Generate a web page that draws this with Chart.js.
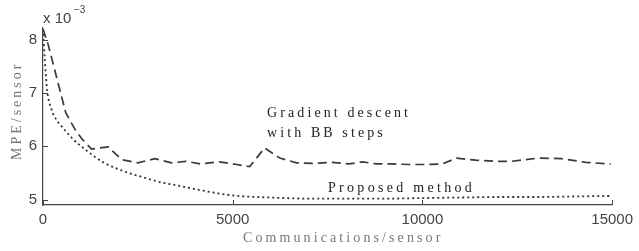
<!DOCTYPE html>
<html>
<head>
<meta charset="utf-8">
<script src="https://cdn.jsdelivr.net/npm/chart.js@4/dist/chart.umd.min.js"></script>
<style>
  body { margin: 0; background: #fff; }
  #wrap { position: relative; width: 639px; height: 251px; }
</style>
</head>
<body>
<div id="wrap"><canvas id="mpechart"></canvas></div>
<script>
// values in units of 1e-3
var bbX = [0, 140, 360, 600, 850, 1050, 1280, 1720, 2075, 2500, 2950, 3390, 3760, 4150, 4650, 5100, 5450, 5840, 6240, 6680, 7100, 7620, 8070, 8420, 8780, 9200, 9650, 10100, 10520, 10900, 11410, 11940, 12350, 13050, 13670, 14300, 14960];
var bbY = [8.2, 7.9, 7.29, 6.63, 6.31, 6.12, 5.95, 5.99, 5.75, 5.69, 5.77, 5.69, 5.72, 5.67, 5.71, 5.66, 5.62, 5.97, 5.78, 5.69, 5.68, 5.70, 5.67, 5.71, 5.67, 5.67, 5.66, 5.66, 5.67, 5.78, 5.74, 5.72, 5.72, 5.78, 5.77, 5.70, 5.67];

var propX = [0, 50, 110, 225, 350, 460, 800, 1150, 1590, 2100, 2640, 3080, 3520, 4130, 5000, 6000, 7000, 8000, 9000, 10000, 11000, 12000, 13000, 14000, 15000];
var propY = [8.2, 7.6, 7.05, 6.69, 6.5, 6.4, 6.13, 5.92, 5.70, 5.54, 5.42, 5.33, 5.27, 5.18, 5.08, 5.04, 5.02, 5.02, 5.02, 5.03, 5.04, 5.05, 5.05, 5.06, 5.07];

var xTicks = [0, 5000, 10000, 15000];
var yTicks = [5, 6, 7, 8];

function pts(xs, ys) {
  return xs.map(function (x, i) { return { x: x, y: ys[i] }; });
}

var axisColor = '#444';

var extras = {
  id: 'extras',
  afterDraw: function (chart) {
    var ctx = chart.ctx;
    var xs = chart.scales.x, ys = chart.scales.y;
    var area = chart.chartArea;
    ctx.save();
    ctx.strokeStyle = axisColor;
    ctx.lineWidth = 1;
    // inward tick marks
    xTicks.forEach(function (v) {
      var px = Math.round(xs.getPixelForValue(v)) + 0.5;
      ctx.beginPath();
      ctx.moveTo(px, area.bottom);
      ctx.lineTo(px, area.bottom - 5);
      ctx.stroke();
    });
    yTicks.forEach(function (v) {
      var py = Math.round(ys.getPixelForValue(v)) + 0.5;
      ctx.beginPath();
      ctx.moveTo(area.left, py);
      ctx.lineTo(area.left + 5, py);
      ctx.stroke();
    });

    // exponent
    ctx.fillStyle = axisColor;
    ctx.textBaseline = 'alphabetic';
    ctx.textAlign = 'left';
    ctx.font = '15px "Liberation Sans", Arial, sans-serif';
    ctx.fillText('x 10', 43, 23);
    ctx.font = '10px "Liberation Sans", Arial, sans-serif';
    ctx.fillText('\u22123', 74, 13);

    // annotations
    ctx.fillStyle = '#222';
    ctx.font = '14px "Liberation Serif", "Times New Roman", serif';
    ctx.letterSpacing = '3.1px';
    ctx.fillText('Gradient descent', 267, 117);
    ctx.fillText('with BB steps', 267, 137);
    ctx.letterSpacing = '3.3px';
    ctx.fillText('Proposed method', 328, 192);

    // axis titles
    ctx.fillStyle = '#777';
    ctx.font = '14px "Liberation Serif", "Times New Roman", serif';
    ctx.letterSpacing = '3.1px';
    ctx.textAlign = 'left';
    ctx.fillText('Communications/sensor', 243, 242);
    ctx.translate(21, 160);
    ctx.rotate(-Math.PI / 2);
    ctx.letterSpacing = '3px';
    ctx.fillText('MPE/sensor', 0, 0);
    ctx.restore();
  }
};

new Chart(document.getElementById('mpechart'), {
  type: 'line',
  data: {
    datasets: [
      {
        label: 'Gradient descent with BB steps',
        data: pts(bbX, bbY),
        borderColor: '#3a3a3a',
        borderWidth: 1.7,
        borderDash: [9, 5],
        pointRadius: 0,
        tension: 0,
        fill: false
      },
      {
        label: 'Proposed method',
        data: pts(propX, propY),
        borderColor: '#333',
        borderWidth: 1.8,
        borderDash: [2, 3],
        pointRadius: 0,
        cubicInterpolationMode: 'monotone',
        fill: false
      }
    ]
  },
  options: {
    responsive: true,
    maintainAspectRatio: false,
    animation: false,
    layout: {
      padding: { top: 28, right: 25, left: 0, bottom: 0 }
    },
    scales: {
      x: {
        type: 'linear',
        min: 0,
        max: 15000,
        afterFit: function (s) { s.height = 46; },
        afterBuildTicks: function (s) { s.ticks = xTicks.map(function (v) { return { value: v }; }); },
        grid: { display: false, drawTicks: false },
        border: { display: true, color: axisColor, width: 1.2 },
        ticks: {
          color: '#444',
          padding: 6,
          maxRotation: 0,
          font: { family: '"Liberation Sans", Arial, sans-serif', size: 15 },
          callback: function (v) { return String(v); }
        }
      },
      y: {
        min: 4.9,
        max: 8.22,
        afterFit: function (s) { s.width = 43; },
        afterBuildTicks: function (s) { s.ticks = yTicks.map(function (v) { return { value: v }; }); },
        grid: { display: false, drawTicks: false },
        border: { display: true, color: axisColor, width: 1.2 },
        ticks: {
          color: '#444',
          padding: 6,
          font: { family: '"Liberation Sans", Arial, sans-serif', size: 15 },
          callback: function (v) { return String(v); }
        }
      }
    },
    plugins: {
      legend: { display: false },
      tooltip: { enabled: false }
    }
  },
  plugins: [extras]
});
</script>
</body>
</html>
